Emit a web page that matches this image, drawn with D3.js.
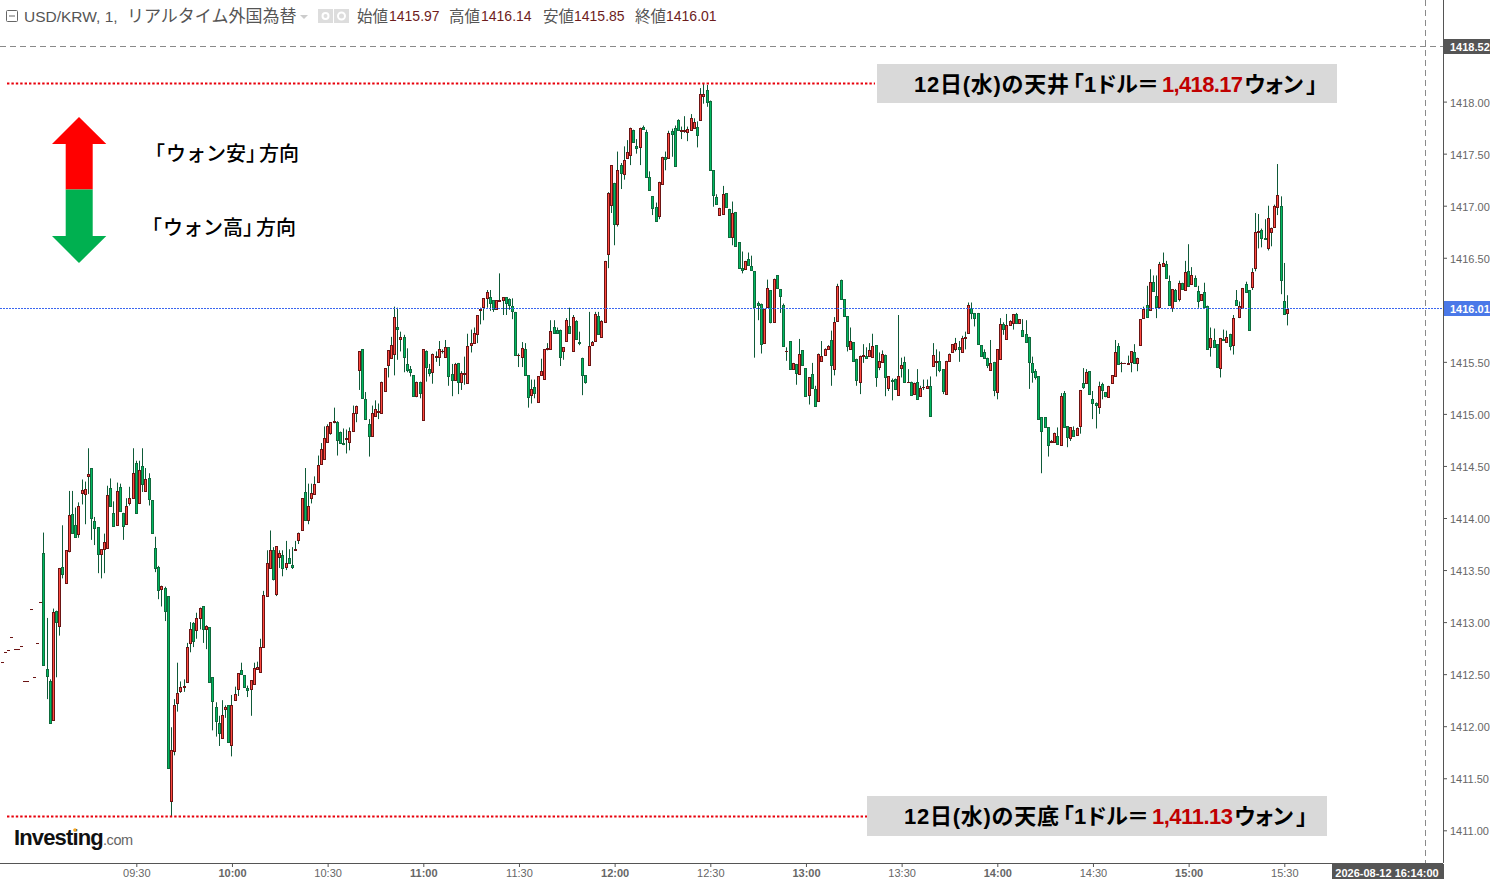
<!DOCTYPE html>
<html>
<head>
<meta charset="utf-8">
<title>USD/KRW</title>
<script src="https://d3js.org/d3.v7.min.js"></script>
<style>
  html, body { margin: 0; padding: 0; background: #fff; overflow: hidden; }
  svg { display: block; font-family: "Liberation Sans", "Noto Sans CJK JP", sans-serif; }
</style>
</head>
<body>
<script>
// 1-minute USD/KRW
const preMarketStart = 528;   // 08:48, flat one-tick bars before the session
const sessionStart = 541;     // 09:01
const preMarket = [1412.62,1412.71,1412.73,1412.86,1412.74,1412.74,1412.77,1412.43,1412.43,1413.13,1412.47,1412.80,1413.19];

const opens = [
1413.66,1412.55,1412.43,1412.06,1413.11,1412.96,1413.53,1413.38,1413.68,1414.04,
1413.93,1413.85,1414.24,1414.23,1414.40,1414.48,1413.97,1413.91,1413.65,1413.70,
1413.71,1414.29,1414.05,1413.93,1414.30,1414.05,1413.94,1414.14,1414.19,1414.53,
1414.14,1414.50,1414.26,1414.38,1414.17,1413.71,1413.53,1413.32,1413.33,1413.25,
1411.28,1411.76,1412.22,1412.34,1412.38,1412.42,1412.80,1412.99,1412.92,1413.04,
1413.15,1412.93,1412.95,1412.47,1412.18,1412.03,1411.89,1412.17,1412.20,1411.82,
1412.25,1412.36,1412.54,1412.49,1412.37,1412.36,1412.41,1412.55,1412.52,1412.76,
1413.25,1413.52,1413.69,1413.27,1413.63,1413.64,1413.53,1413.62,1413.55,1413.69,
1413.79,1413.88,1414.25,1413.98,1414.19,1414.23,1414.35,1414.52,1414.57,1414.73,
1414.82,1414.92,1414.92,1414.83,1414.72,1414.76,1414.73,1414.84,1415.01,1415.42,
1415.62,1415.14,1414.90,1414.79,1414.98,1415.02,1415.01,1415.22,1415.47,1415.54,
1415.58,1415.83,1415.72,1415.74,1415.48,1415.43,1415.37,1415.17,1415.31,1414.94,
1415.60,1415.43,1415.40,1415.55,1415.55,1415.60,1415.55,1415.64,1415.38,1415.33,
1415.49,1415.31,1415.38,1415.30,1415.66,1415.68,1415.77,1416.00,1416.03,1416.11,
1416.12,1416.09,1416.01,1416.08,1416.09,1416.12,1416.10,1416.04,1415.98,1415.57,
1415.55,1415.62,1415.37,1415.18,1415.26,1415.11,1415.37,1415.34,1415.62,1415.62,
1415.83,1415.81,1415.81,1415.60,1415.70,1415.84,1415.60,1415.89,1415.69,1415.54,
1415.37,1415.47,1415.66,1415.70,1415.94,1415.74,1415.88,1416.54,1417.01,1417.22,
1416.82,1417.39,1417.30,1417.46,1417.49,1417.73,1417.57,1417.56,1417.76,1417.71,
1417.28,1417.09,1416.99,1416.90,1417.21,1417.47,1417.46,1417.72,1417.75,1417.82,
1417.72,1417.72,1417.71,1417.73,1417.75,1417.76,1417.82,1418.05,1418.11,1418.01,
1417.34,1417.08,1416.91,1416.92,1417.12,1416.97,1416.70,1416.94,1416.65,1416.40,
1416.39,1416.49,1416.42,1416.37,1416.07,1416.06,1415.68,1416.03,1416.19,1415.88,
1416.33,1416.20,1416.05,1415.60,1415.70,1415.43,1415.48,1415.38,1415.61,1415.44,
1415.18,1415.38,1415.24,1415.12,1415.51,1415.57,1415.62,1415.71,1415.43,1415.89,
1416.29,1416.10,1415.94,1415.62,1415.69,1415.53,1415.31,1415.56,1415.56,1415.56,
1415.55,1415.66,1415.45,1415.50,1415.57,1415.25,1415.33,1415.34,1415.18,1415.44,
1415.50,1415.31,1415.31,1415.19,1415.31,1415.17,1415.26,1415.25,1415.27,1415.46,
1415.50,1415.51,1415.43,1415.19,1415.51,1415.59,1415.62,1415.64,1415.59,1415.73,
1415.78,1416.02,1415.97,1415.97,1415.66,1415.59,1415.54,1415.42,1415.50,1415.21,
1415.53,1415.86,1415.72,1415.85,1415.87,1415.96,1415.87,1415.81,1415.77,1415.74,
1415.49,1415.41,1415.36,1414.97,1414.97,1414.87,1414.73,1414.73,1414.79,1414.70,
1415.20,1414.88,1414.77,1414.85,1414.80,1414.88,1415.30,1415.30,1415.41,1415.14,
1415.10,1415.07,1415.29,1415.21,1415.16,1415.30,1415.36,1415.65,1415.49,1415.49,
1415.48,1415.50,1415.59,1415.49,1415.66,1415.92,1416.05,1416.00,1416.27,1416.13,
1416.03,1416.42,1416.44,1416.28,1416.02,1416.19,1416.10,1416.26,1416.19,1416.37,
1416.25,1416.31,1416.18,1416.09,1416.17,1416.04,1415.64,1415.71,1415.67,1415.44,
1415.72,1415.69,1415.77,1415.66,1416.09,1415.93,1416.02,1416.25,1416.19,1416.22,
1416.40,1416.75,1416.77,1416.69,1416.59,1416.75,1416.80,1416.99,1417.00,1416.08,1415.97];

const highs = [
1413.86,1413.04,1412.45,1413.13,1413.11,1413.52,1413.93,1413.69,1414.26,1414.26,
1414.10,1414.15,1414.37,1414.35,1414.67,1414.48,1414.01,1413.91,1413.70,1413.85,
1414.31,1414.38,1414.16,1414.34,1414.33,1414.05,1414.19,1414.30,1414.67,1414.55,
1414.55,1414.67,1414.48,1414.43,1414.17,1413.82,1413.54,1413.35,1413.34,1413.25,
1411.99,1412.26,1412.61,1412.43,1412.45,1412.80,1413.00,1413.00,1413.09,1413.14,
1413.15,1412.97,1412.95,1412.47,1412.23,1412.10,1412.25,1412.20,1412.20,1412.30,
1412.38,1412.51,1412.61,1412.49,1412.39,1412.44,1412.61,1412.62,1412.84,1413.30,
1413.69,1413.88,1413.72,1413.73,1413.69,1413.69,1413.78,1413.70,1413.72,1413.78,
1413.86,1414.19,1414.48,1414.33,1414.33,1414.40,1414.60,1414.72,1414.88,1414.90,
1414.92,1415.06,1414.93,1414.83,1414.86,1414.85,1414.87,1415.08,1415.08,1415.60,
1415.62,1415.21,1414.95,1415.08,1415.13,1415.10,1415.31,1415.44,1415.61,1415.74,
1416.03,1416.02,1415.79,1415.76,1415.63,1415.46,1415.37,1415.31,1415.31,1415.62,
1415.61,1415.48,1415.58,1415.60,1415.70,1415.62,1415.71,1415.64,1415.48,1415.49,
1415.49,1415.41,1415.55,1415.77,1415.81,1415.83,1415.95,1416.02,1416.11,1416.19,
1416.19,1416.09,1416.09,1416.35,1416.12,1416.12,1416.11,1416.11,1415.98,1415.58,
1415.69,1415.68,1415.37,1415.33,1415.33,1415.36,1415.53,1415.62,1415.68,1415.90,
1415.90,1415.83,1415.81,1415.64,1415.92,1416.02,1415.95,1415.90,1415.79,1415.54,
1415.37,1415.98,1415.70,1415.98,1415.98,1415.90,1416.47,1417.13,1417.39,1417.22,
1417.52,1417.41,1417.57,1417.63,1417.75,1417.73,1417.64,1417.75,1417.77,1417.73,
1417.33,1417.09,1417.03,1417.23,1417.47,1417.52,1417.72,1417.74,1417.77,1417.83,
1417.76,1417.86,1417.76,1417.88,1417.84,1417.81,1418.13,1418.17,1418.16,1418.01,
1417.34,1417.11,1416.98,1417.19,1417.12,1416.97,1417.04,1416.94,1416.65,1416.56,
1416.47,1416.55,1416.52,1416.37,1416.08,1416.06,1416.01,1416.29,1416.19,1416.30,
1416.33,1416.20,1416.06,1415.64,1415.70,1415.49,1415.48,1415.72,1415.61,1415.44,
1415.35,1415.49,1415.27,1415.58,1415.70,1415.63,1415.66,1415.80,1415.93,1416.25,
1416.29,1416.10,1415.94,1415.83,1415.69,1415.53,1415.56,1415.67,1415.64,1415.68,
1415.77,1415.66,1415.59,1415.61,1415.57,1415.36,1415.34,1415.34,1415.95,1415.54,
1415.55,1415.43,1415.31,1415.30,1415.43,1415.27,1415.33,1415.33,1415.36,1415.68,
1415.62,1415.60,1415.43,1415.51,1415.58,1415.67,1415.73,1415.70,1415.75,1415.79,
1416.07,1416.07,1415.97,1415.97,1415.66,1415.62,1415.54,1415.71,1415.50,1415.62,
1415.92,1415.88,1415.96,1415.90,1415.96,1415.97,1415.91,1415.91,1415.90,1415.74,
1415.55,1415.43,1415.36,1414.97,1414.97,1414.87,1414.75,1414.82,1414.87,1415.20,
1415.22,1414.88,1414.87,1414.88,1414.87,1415.23,1415.44,1415.43,1415.41,1415.22,
1415.11,1415.31,1415.30,1415.21,1415.27,1415.37,1415.71,1415.68,1415.50,1415.49,
1415.56,1415.60,1415.67,1415.54,1415.91,1416.03,1416.23,1416.39,1416.33,1416.33,
1416.46,1416.55,1416.47,1416.33,1416.20,1416.20,1416.28,1416.26,1416.47,1416.63,
1416.41,1416.33,1416.23,1416.15,1416.26,1416.04,1415.83,1415.82,1415.67,1415.73,
1415.81,1415.80,1415.77,1415.95,1416.19,1416.08,1416.21,1416.27,1416.19,1416.40,
1416.93,1416.92,1416.78,1416.87,1417.00,1416.79,1417.01,1417.40,1417.09,1416.45,1416.14];

const lows = [
1412.59,1412.26,1412.03,1412.06,1412.47,1412.87,1413.42,1413.38,1413.67,1413.86,
1413.82,1413.81,1414.13,1413.94,1414.23,1413.79,1413.74,1413.47,1413.42,1413.47,
1413.71,1414.12,1413.92,1413.93,1414.07,1413.79,1413.94,1414.12,1414.19,1414.05,
1414.14,1414.25,1414.25,1414.12,1413.86,1413.48,1413.22,1413.15,1413.01,1411.60,
1411.13,1411.72,1412.14,1412.32,1412.33,1412.42,1412.71,1412.76,1412.84,1412.93,
1412.80,1412.74,1412.42,1411.96,1411.90,1411.81,1411.89,1412.08,1411.85,1411.71,
1412.25,1412.29,1412.50,1412.38,1412.28,1412.10,1412.41,1412.55,1412.52,1412.76,
1413.25,1413.52,1413.40,1413.25,1413.52,1413.44,1413.50,1413.56,1413.51,1413.69,
1413.75,1413.88,1413.98,1413.94,1414.14,1414.23,1414.35,1414.52,1414.56,1414.73,
1414.80,1414.91,1414.60,1414.72,1414.70,1414.62,1414.65,1414.84,1414.92,1415.23,
1415.15,1414.95,1414.59,1414.79,1414.98,1414.95,1415.01,1415.22,1415.35,1415.54,
1415.37,1415.52,1415.60,1415.40,1415.40,1415.36,1415.17,1415.16,1415.15,1414.94,
1415.31,1415.36,1415.29,1415.50,1415.46,1415.58,1415.55,1415.27,1415.17,1415.33,
1415.19,1415.23,1415.28,1415.30,1415.59,1415.68,1415.68,1415.86,1415.90,1416.02,
1415.99,1415.98,1416.00,1416.08,1415.95,1415.95,1416.00,1415.91,1415.57,1415.45,
1415.45,1415.37,1415.06,1415.10,1415.15,1415.11,1415.37,1415.34,1415.61,1415.62,
1415.78,1415.78,1415.46,1415.52,1415.70,1415.78,1415.60,1415.72,1415.66,1415.18,
1415.29,1415.47,1415.66,1415.70,1415.76,1415.74,1415.88,1416.40,1416.93,1416.62,
1416.80,1417.16,1417.25,1417.45,1417.39,1417.61,1417.50,1417.39,1417.74,1417.28,
1417.15,1416.91,1416.85,1416.87,1417.21,1417.34,1417.46,1417.47,1417.38,1417.73,
1417.64,1417.70,1417.62,1417.73,1417.75,1417.56,1417.82,1417.98,1417.95,1417.34,
1416.99,1417.02,1416.91,1416.92,1416.99,1416.70,1416.62,1416.61,1416.40,1416.35,
1416.39,1416.43,1416.38,1415.54,1415.90,1415.58,1415.68,1416.03,1415.87,1415.88,
1416.21,1415.97,1415.65,1415.51,1415.43,1415.43,1415.28,1415.38,1415.47,1415.17,
1415.09,1415.25,1415.08,1415.12,1415.50,1415.57,1415.62,1415.27,1415.37,1415.89,
1416.10,1415.94,1415.60,1415.62,1415.51,1415.27,1415.19,1415.49,1415.53,1415.56,
1415.55,1415.26,1415.42,1415.50,1415.17,1415.22,1415.13,1415.24,1415.18,1415.35,
1415.31,1415.30,1415.18,1415.19,1415.14,1415.17,1415.23,1415.25,1414.98,1415.46,
1415.36,1415.40,1415.19,1415.19,1415.51,1415.59,1415.60,1415.50,1415.59,1415.62,
1415.78,1415.91,1415.84,1415.67,1415.56,1415.54,1415.44,1415.42,1415.17,1415.14,
1415.53,1415.76,1415.72,1415.85,1415.81,1415.87,1415.87,1415.75,1415.69,1415.24,
1415.30,1415.33,1414.95,1414.43,1414.87,1414.59,1414.72,1414.73,1414.71,1414.70,
1414.87,1414.68,1414.74,1414.79,1414.80,1414.81,1415.24,1415.30,1415.19,1414.95,
1414.86,1415.00,1415.14,1415.16,1415.16,1415.30,1415.36,1415.48,1415.40,1415.48,
1415.48,1415.40,1415.49,1415.41,1415.66,1415.92,1415.93,1416.00,1416.18,1415.92,
1416.03,1416.42,1416.31,1416.05,1415.98,1416.08,1416.08,1416.20,1416.19,1416.23,
1416.25,1416.23,1416.02,1416.09,1416.03,1415.62,1415.55,1415.64,1415.45,1415.35,
1415.71,1415.69,1415.61,1415.57,1416.05,1415.92,1416.02,1416.17,1415.81,1416.19,
1416.37,1416.59,1416.60,1416.68,1416.57,1416.61,1416.80,1416.91,1416.15,1415.96,1415.85];

const closes = [
1412.59,1412.48,1412.03,1413.10,1413.00,1413.52,1413.46,1413.69,1414.03,1413.86,
1413.82,1414.12,1414.27,1414.28,1414.42,1414.00,1413.90,1413.65,1413.70,1413.77,
1414.22,1414.12,1413.92,1414.26,1414.07,1413.92,1414.12,1414.19,1414.43,1414.05,
1414.46,1414.33,1414.37,1414.18,1413.86,1413.52,1413.31,1413.35,1413.11,1411.60,
1411.77,1412.20,1412.32,1412.38,1412.39,1412.76,1412.93,1412.82,1413.04,1413.14,
1412.93,1412.96,1412.42,1412.24,1412.05,1411.93,1412.11,1412.18,1411.85,1412.20,
1412.31,1412.51,1412.50,1412.38,1412.35,1412.44,1412.56,1412.57,1412.76,1413.26,
1413.57,1413.69,1413.41,1413.73,1413.66,1413.52,1413.57,1413.57,1413.53,1413.70,
1413.86,1414.19,1413.98,1414.12,1414.24,1414.33,1414.51,1414.66,1414.77,1414.88,
1414.92,1414.93,1414.75,1414.72,1414.71,1414.77,1414.84,1415.01,1415.08,1415.60,
1415.15,1414.95,1414.79,1415.01,1415.05,1415.03,1415.31,1415.44,1415.61,1415.66,
1415.93,1415.82,1415.74,1415.55,1415.42,1415.40,1415.17,1415.31,1415.20,1415.62,
1415.45,1415.39,1415.58,1415.56,1415.62,1415.60,1415.64,1415.36,1415.33,1415.48,
1415.31,1415.39,1415.39,1415.65,1415.68,1415.78,1415.95,1416.01,1416.11,1416.17,
1416.07,1416.01,1416.09,1416.09,1416.12,1416.07,1416.05,1415.99,1415.57,1415.57,
1415.63,1415.37,1415.16,1415.24,1415.20,1415.36,1415.41,1415.62,1415.63,1415.80,
1415.78,1415.78,1415.55,1415.64,1415.90,1415.78,1415.93,1415.72,1415.68,1415.37,
1415.31,1415.65,1415.69,1415.96,1415.77,1415.89,1416.47,1417.12,1417.39,1416.82,
1417.34,1417.31,1417.44,1417.52,1417.75,1417.61,1417.55,1417.75,1417.74,1417.28,
1417.15,1416.98,1416.85,1417.23,1417.47,1417.45,1417.70,1417.69,1417.38,1417.73,
1417.73,1417.73,1417.74,1417.84,1417.80,1417.68,1418.07,1418.07,1418.00,1417.34,
1417.10,1417.02,1416.98,1417.11,1416.99,1416.70,1416.93,1416.61,1416.40,1416.38,
1416.47,1416.43,1416.38,1416.03,1416.05,1415.67,1416.01,1416.21,1415.88,1416.30,
1416.21,1416.13,1415.65,1415.60,1415.43,1415.49,1415.39,1415.58,1415.47,1415.17,
1415.35,1415.25,1415.08,1415.58,1415.56,1415.62,1415.65,1415.47,1415.88,1416.23,
1416.10,1415.94,1415.65,1415.70,1415.51,1415.33,1415.56,1415.57,1415.54,1415.61,
1415.65,1415.35,1415.51,1415.58,1415.35,1415.36,1415.32,1415.24,1415.36,1415.47,
1415.31,1415.31,1415.18,1415.30,1415.14,1415.25,1415.26,1415.27,1414.98,1415.57,
1415.51,1415.42,1415.22,1415.51,1415.58,1415.67,1415.68,1415.62,1415.73,1415.74,
1416.05,1415.97,1415.92,1415.67,1415.56,1415.54,1415.47,1415.49,1415.23,1415.62,
1415.86,1415.82,1415.85,1415.89,1415.96,1415.87,1415.91,1415.75,1415.69,1415.50,
1415.40,1415.35,1414.95,1414.84,1414.87,1414.70,1414.74,1414.82,1414.71,1415.17,
1414.87,1414.78,1414.87,1414.79,1414.86,1415.23,1415.26,1415.40,1415.19,1415.10,
1415.09,1415.27,1415.23,1415.17,1415.27,1415.37,1415.59,1415.48,1415.49,1415.49,
1415.49,1415.60,1415.49,1415.54,1415.91,1416.01,1415.93,1416.27,1416.18,1416.03,
1416.44,1416.45,1416.31,1416.05,1416.20,1416.08,1416.26,1416.20,1416.36,1416.23,
1416.33,1416.23,1416.08,1416.15,1416.03,1415.62,1415.73,1415.64,1415.45,1415.73,
1415.71,1415.74,1415.65,1415.92,1416.05,1416.04,1416.21,1416.17,1415.81,1416.36,
1416.75,1416.76,1416.69,1416.68,1416.88,1416.79,1417.00,1417.10,1416.29,1415.96,1416.01];

// axes
const priceTicks = [1411,1411.5,1412,1412.5,1413,1413.5,1414,1414.5,1415,1415.5,1416,1416.5,1417,1417.5,1418];
const timeTicks = [570,600,630,660,690,720,750,780,810,840,870,900,930];

// readouts and notes
const lastPrice = 1416.01;
const topPrice = 1418.52;
const cursorMinute = 974;     // 16:14
const dayHigh = 1418.17;
const dayLow = 1411.13;
const ohlcLabels = ['始値','高値','安値','終値'];
const ohlcValues = ['1415.97','1416.14','1415.85','1416.01'];

const W = 1490, H = 879;
const plotRight = 1443, plotBottom = 863;

const x = d3.scaleLinear().domain([570, 930]).range([136.3, 1284.3]);
const y = d3.scaleLinear().domain([1411, 1418]).range([830.3, 101.6]);

const svg = d3.select('body').append('svg').attr('width', W).attr('height', H);

const bars = [];
preMarket.forEach((p, i) => bars.push({ t: preMarketStart + i, o: p, h: p, l: p, c: p }));
opens.forEach((o, i) => bars.push({ t: sessionStart + i, o, h: highs[i], l: lows[i], c: closes[i] }));

// ---- guide lines
svg.append('line').attr('x1', 0).attr('x2', plotRight)
    .attr('y1', Math.round(y(topPrice)) - 0.5).attr('y2', Math.round(y(topPrice)) - 0.5)
    .attr('stroke', '#8a8a8a').attr('stroke-dasharray', '6 4');
svg.append('line').attr('x1', Math.round(x(cursorMinute)) + 0.5).attr('x2', Math.round(x(cursorMinute)) + 0.5)
    .attr('y1', 0).attr('y2', plotBottom)
    .attr('stroke', '#8a8a8a').attr('stroke-dasharray', '6 4');

// ---- candles
const candle = svg.append('g').selectAll('g').data(bars).join('g')
    .attr('transform', d => `translate(${Math.floor(x(d.t)) + 0.5},0)`);
candle.append('line')
    .attr('y1', d => y(d.h)).attr('y2', d => y(d.l))
    .attr('stroke', '#0e5a38').attr('stroke-width', 1);
candle.append('rect')
    .attr('x', -1).attr('width', 2)
    .attr('y', d => Math.round(y(Math.max(d.o, d.c))) + 0.5)
    // a flat bar still has to paint its dash, zero height would drop it
    .attr('height', d => Math.max(0.01, Math.round(y(Math.min(d.o, d.c))) - Math.round(y(Math.max(d.o, d.c)))))
    .attr('fill', d => d.c >= d.o ? '#ff4a40' : '#00b860')
    .attr('stroke', d => d.c >= d.o ? '#6b1414' : '#0f6a3c')
    .attr('stroke-width', 1);

// ---- current price line
svg.append('line').attr('x1', 0).attr('x2', plotRight)
    .attr('y1', Math.round(y(lastPrice)) - 0.5).attr('y2', Math.round(y(lastPrice)) - 0.5)
    .attr('stroke', '#3a66f0').attr('stroke-width', 1).attr('stroke-dasharray', '2 1');

// ---- frame and axes
svg.append('line').attr('x1', plotRight + 0.5).attr('x2', plotRight + 0.5).attr('y1', 0).attr('y2', plotBottom)
    .attr('stroke', '#555');
svg.append('line').attr('x1', 0).attr('x2', plotRight).attr('y1', plotBottom + 0.5).attr('y2', plotBottom + 0.5)
    .attr('stroke', '#555');

const yAxis = svg.append('g').attr('transform', `translate(${plotRight},0)`)
    .call(d3.axisRight(y).tickValues(priceTicks).tickFormat(d3.format('.2f')).tickSize(4).tickPadding(3));
yAxis.select('.domain').remove();
yAxis.selectAll('line').attr('stroke', '#555');
yAxis.selectAll('text').attr('fill', '#666').attr('dy', '0.4em').style('font-size', '11px')
    .style('font-family', '"Liberation Sans", sans-serif');

const fmtTime = m => d3.format('02')(Math.floor(m / 60)) + ':' + d3.format('02')(m % 60);
const xAxis = svg.append('g').attr('transform', `translate(0,${plotBottom})`)
    .call(d3.axisBottom(x).tickValues(timeTicks).tickFormat(fmtTime).tickSize(4).tickPadding(2));
xAxis.select('.domain').remove();
xAxis.selectAll('line').attr('stroke', '#555');
xAxis.selectAll('text').attr('fill', '#666').style('font-size', '11px')
    .style('font-family', '"Liberation Sans", sans-serif')
    .style('font-weight', d => d % 60 === 0 ? 'bold' : 'normal');

// ---- price and time flags
function priceFlag(price, bg) {
    const cy = Math.round(y(price));
    svg.append('rect').attr('x', plotRight + 1).attr('width', W - plotRight - 1)
        .attr('y', cy - 8).attr('height', 15).attr('fill', bg);
    svg.append('text').attr('x', plotRight + 7).attr('y', cy).attr('dy', '0.36em')
        .attr('fill', '#fff').attr('font-size', 11).attr('font-weight', 'bold')
        .text(d3.format('.2f')(price));
}
priceFlag(topPrice, '#555');
priceFlag(lastPrice, '#4a78e8');

svg.append('rect').attr('x', 1332).attr('y', plotBottom + 1).attr('width', plotRight - 1332 + 1).attr('height', H - plotBottom)
    .attr('fill', '#555');
svg.append('text').attr('x', 1387).attr('y', 873).attr('dy', '0.34em').attr('text-anchor', 'middle')
    .attr('fill', '#fff').attr('font-size', 11).attr('font-weight', 'bold').text('2026-08-12 16:14:00');

// ---- header
const head = svg.append('g').attr('font-size', 14);
head.append('rect').attr('x', 6.5).attr('y', 10.5).attr('width', 11).attr('height', 11)
    .attr('fill', 'none').attr('stroke', '#666').attr('rx', 1);
head.append('line').attr('x1', 9).attr('x2', 15).attr('y1', 16).attr('y2', 16).attr('stroke', '#666');
head.append('text').attr('x', 24).attr('y', 21.5).attr('fill', '#555').attr('font-size', 15.5)
    .text('USD/KRW, 1,');
head.append('text').attr('x', 127).attr('y', 22).attr('fill', '#555').attr('font-size', 17)
    .text('リアルタイム外国為替');
head.append('path').attr('d', 'M300,15 h8 l-4,4 z').attr('fill', '#ccc');
[318, 334].forEach((bx, i) => {
    head.append('rect').attr('x', bx).attr('y', 9).attr('width', 15).attr('height', 14).attr('fill', '#ddd');
    head.append('circle').attr('cx', bx + 7.5).attr('cy', 16).attr('r', i ? 3.5 : 3)
        .attr('fill', 'none').attr('stroke', '#fff').attr('stroke-width', 2);
});
const labelX = [357, 449, 543, 635], valueX = [389, 481, 574, 666];
ohlcLabels.forEach((t, i) => {
    head.append('text').attr('x', labelX[i]).attr('y', 21.5).attr('fill', '#555').attr('font-size', 15.5).text(t);
    head.append('text').attr('x', valueX[i]).attr('y', 21).attr('fill', '#6e1c1c').text(ohlcValues[i]);
});

// ---- high / low notes
function note(price, lineX2, boxX, boxY, boxH, textX, label, value) {
    const ly = Math.round(y(price)) - 0.5;
    svg.append('line').attr('x1', 7).attr('x2', lineX2).attr('y1', ly).attr('y2', ly)
        .attr('stroke', '#e8000b').attr('stroke-width', 2).attr('stroke-dasharray', '2.4 2');
    svg.append('rect').attr('x', boxX).attr('y', boxY).attr('width', 460).attr('height', boxH).attr('fill', '#d9d9d9');
    // the pieces are placed one by one, the brackets in the original are set narrow
    const pieces = [
        { dx: 0, len: 155, s: `12日(水)の${label}` },
        { dx: 159, halt: true, s: '「' },
        { dx: 170, len: 75, s: '1ドル＝' },
        { dx: 248, len: 81, s: d3.format(',.2f')(value), fill: '#c00000' },
        { dx: 330, len: 60, s: 'ウォン' },
        { dx: 392, halt: true, s: '」' }
    ];
    pieces.forEach(p => {
        const t = svg.append('text').attr('x', textX + p.dx).attr('y', boxY + boxH / 2 + 0.5).attr('dy', '0.36em')
            .attr('font-size', 22).attr('font-weight', 'bold').attr('fill', p.fill || '#000').text(p.s);
        if (p.len) t.attr('textLength', p.len).attr('lengthAdjust', 'spacing');
        if (p.halt) t.style('font-feature-settings', '"halt"');
    });
}
note(dayHigh, 875, 877, 64, 39, 914, '天井', dayHigh);
note(dayLow, 867, 867, 796, 40, 904, '天底', dayLow);

// ---- direction arrows
const arrowUp = [[79,117],[106.3,144],[92.7,144],[92.7,189.5],[65.7,189.5],[65.7,144],[52,144]];
const arrowDown = [[65.7,189.5],[92.7,189.5],[92.7,236],[106.3,236],[79,263],[52,236],[65.7,236]];
const polyLine = d3.line();
svg.append('path').attr('d', polyLine(arrowUp) + 'Z').attr('fill', '#ff0000');
svg.append('path').attr('d', polyLine(arrowDown) + 'Z').attr('fill', '#00b050');
const arrowText = svg.append('g').attr('font-family', '"Noto Sans CJK JP", sans-serif')
    .attr('font-size', 20).attr('font-weight', 500).attr('fill', '#000');
[['ウォン安', 155, 154], ['ウォン高', 152, 228]].forEach(([s, tx, ty]) => {
    const t = arrowText.append('text').attr('x', tx).attr('y', ty).attr('dy', '0.36em');
    t.append('tspan').style('font-feature-settings', '"halt"').text('「');
    t.append('tspan').attr('dx', 1).text(s);
    t.append('tspan').style('font-feature-settings', '"halt"').text('」');
    t.append('tspan').attr('dx', 3).text('方向');
});

// ---- logo
const logo = svg.append('text').attr('x', 14).attr('y', 845);
logo.append('tspan').attr('font-size', 22).attr('font-weight', 'bold').attr('fill', '#111')
    .attr('letter-spacing', -0.85).text('Investing');
logo.append('tspan').attr('font-size', 14.5).attr('fill', '#666').attr('letter-spacing', -0.4).text('.com');
svg.append('circle').attr('cx', 75).attr('cy', 830).attr('r', 1.7).attr('fill', '#f5a623');
</script>
</body>
</html>
